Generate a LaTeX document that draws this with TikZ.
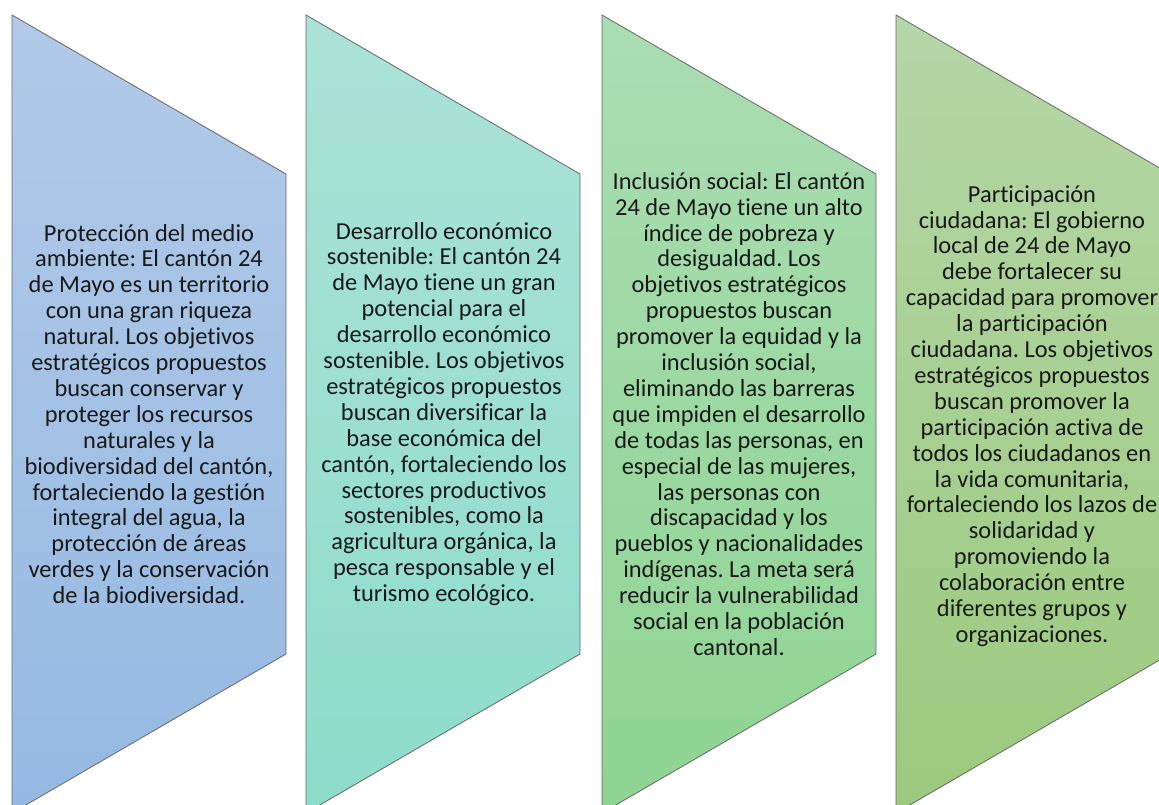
\documentclass[tikz,border=0pt]{standalone}
\usepackage{fontspec}
\setmainfont{Carlito}[Ligatures=NoCommon]
\usepackage{xcolor}
\usepackage{tikz}
\frenchspacing

\definecolor{blueTop}{HTML}{B2CAE8}
\definecolor{blueBot}{HTML}{95B9E3}
\definecolor{tealTop}{HTML}{ABE2D8}
\definecolor{tealBot}{HTML}{8EDCCB}
\definecolor{greenTop}{HTML}{ABDDB3}
\definecolor{greenBot}{HTML}{8ED492}
\definecolor{oliveTop}{HTML}{B5D6A7}
\definecolor{oliveBot}{HTML}{9BCA7E}

\begin{document}
\begin{tikzpicture}[x=1pt,y=-1pt,
                    panel/.style={draw=black!60,line width=0.8pt},
                    paneltext/.style={align=center,text=black!90,
                                      font=\fontsize{24.4}{25.9}\selectfont}]
  \useasboundingbox (0,0) rectangle (1159,805);
  \clip (0,0) rectangle (1159,805);

  \path[panel,top color=blueTop,bottom color=blueBot]
    (12,15) -- (286,174) -- (286,654) -- (12,813) -- cycle;
  \path[panel,top color=tealTop,bottom color=tealBot]
    (306,15) -- (580,174) -- (580,654) -- (306,813) -- cycle;
  \path[panel,top color=greenTop,bottom color=greenBot]
    (602,15) -- (876,174) -- (876,654) -- (602,813) -- cycle;
  \path[panel,top color=oliveTop,bottom color=oliveBot]
    (896,15) -- (1170,174) -- (1170,654) -- (896,813) -- cycle;

  \node[paneltext] (medio) at (149,414)
    {Protección del medio\\ambiente: El cantón 24\\de Mayo es un territorio\\
     con una gran riqueza\\natural. Los objetivos\\estratégicos propuestos\\
     buscan conservar y\\proteger los recursos\\naturales y la\\
     biodiversidad del cantón,\\fortaleciendo la gestión\\integral del agua, la\\
     protección de áreas\\verdes y la conservación\\de la biodiversidad.};
  \node[paneltext] (economia) at (444,414)
    {Desarrollo económico\\sostenible: El cantón 24\\de Mayo tiene un gran\\
     potencial para el\\desarrollo económico\\sostenible. Los objetivos\\
     estratégicos propuestos\\buscan diversificar la\\base económica del\\
     cantón, fortaleciendo los\\sectores productivos\\sostenibles, como la\\
     agricultura orgánica, la\\pesca responsable y el\\turismo ecológico.};
  \node[paneltext] (inclusion) at (739,414)
    {Inclusión social: El cantón\\24 de Mayo tiene un alto\\índice de pobreza y\\
     desigualdad. Los\\objetivos estratégicos\\propuestos buscan\\
     promover la equidad y la\\inclusión social,\\eliminando las barreras\\
     que impiden el desarrollo\\de todas las personas, en\\especial de las mujeres,\\
     las personas con\\discapacidad y los\\pueblos y nacionalidades\\
     indígenas. La meta será\\reducir la vulnerabilidad\\social en la población\\
     cantonal.};
  \node[paneltext] (ciudadania) at (1032,416)
    {Participación\\ciudadana: El gobierno\\local de 24 de Mayo\\
     debe fortalecer su\\capacidad para promover\\la participación\\
     ciudadana. Los objetivos\\estratégicos propuestos\\buscan promover la\\
     participación activa de\\todos los ciudadanos en\\la vida comunitaria,\\
     fortaleciendo los lazos de\\solidaridad y\\promoviendo la\\
     colaboración entre\\diferentes grupos y\\organizaciones.};
\end{tikzpicture}
\end{document}
